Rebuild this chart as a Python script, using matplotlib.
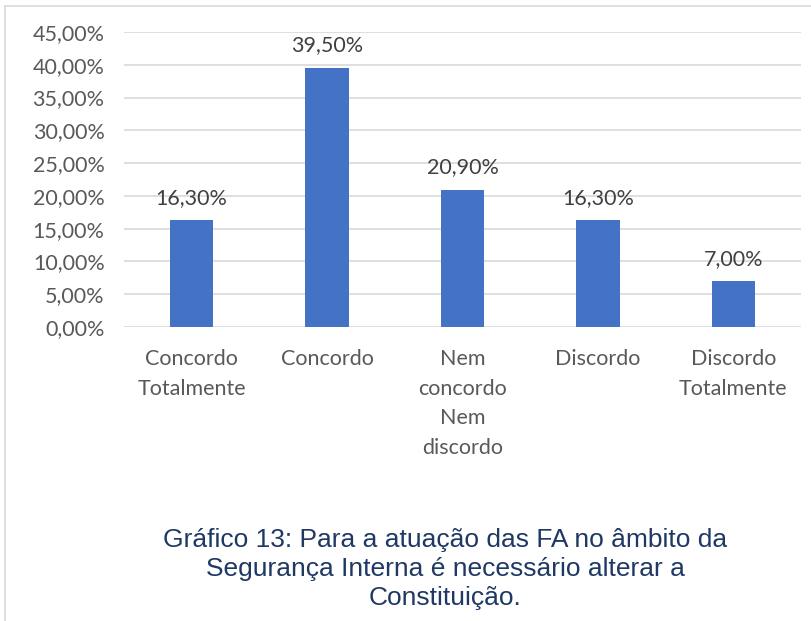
import matplotlib
matplotlib.use("Agg")
import matplotlib.pyplot as plt
from matplotlib.ticker import FuncFormatter
from matplotlib.lines import Line2D

# dados do gráfico
categorias = ["Concordo\nTotalmente", "Concordo", "Nem\nconcordo\nNem\ndiscordo",
              "Discordo", "Discordo\nTotalmente"]
valores = [16.3, 39.5, 20.9, 16.3, 7.0]
rotulos = ["16,30%", "39,50%", "20,90%", "16,30%", "7,00%"]
yticks = [0, 5, 10, 15, 20, 25, 30, 35, 40, 45]

legenda = ("Gráfico 13: Para a atuação das FA no âmbito da\n"
           "Segurança Interna é necessário alterar a\n"
           "Constituição.")

plt.rcParams['font.family'] = ['Lato', 'DejaVu Sans']
cinza = "#595959"
fs = 15.5

fig = plt.figure(figsize=(8.11, 6.21), dpi=100)
ax = fig.add_axes([124 / 811, 1 - 327 / 621, 677 / 811, 295 / 621])

x = range(len(categorias))
ax.bar(x, valores, width=0.32, color="#4472C4", zorder=3)
for xi, v, r in zip(x, valores, rotulos):
    ax.annotate(r, (xi, v), xytext=(0, 9), textcoords="offset points",
                ha="center", va="bottom", fontsize=fs, color="#404040")

ax.set_xlim(-0.5, 4.5)
ax.set_ylim(0, 45)
ax.set_yticks(yticks)
ax.yaxis.set_major_formatter(FuncFormatter(lambda v, p: f"{v:.2f}".replace(".", ",") + "%"))
ax.set_xticks(list(x))
ax.set_xticklabels(categorias, linespacing=1.6, va="top")
ax.tick_params(axis="both", length=0, labelsize=fs, labelcolor=cinza)
ax.tick_params(axis="x", pad=16)
ax.tick_params(axis="y", pad=14)
ax.grid(axis="y", color="#D9D9D9", linewidth=1.2, zorder=0)
for s in ax.spines.values():
    s.set_visible(False)

# moldura do gráfico
fig.add_artist(Line2D([5 / 811, 5 / 811], [0, 1 - 6 / 621], transform=fig.transFigure,
                      color="#D9D9D9", linewidth=1.2))
fig.add_artist(Line2D([5 / 811, 1], [1 - 6 / 621, 1 - 6 / 621], transform=fig.transFigure,
                      color="#D9D9D9", linewidth=1.2))

fig.text(445 / 811, 1 - 569 / 621, legenda, ha="center", va="center",
         fontsize=19, color="#1F3864", family=["Liberation Sans", "DejaVu Sans"],
         linespacing=1.26)

fig.savefig("out.png", dpi=100)
